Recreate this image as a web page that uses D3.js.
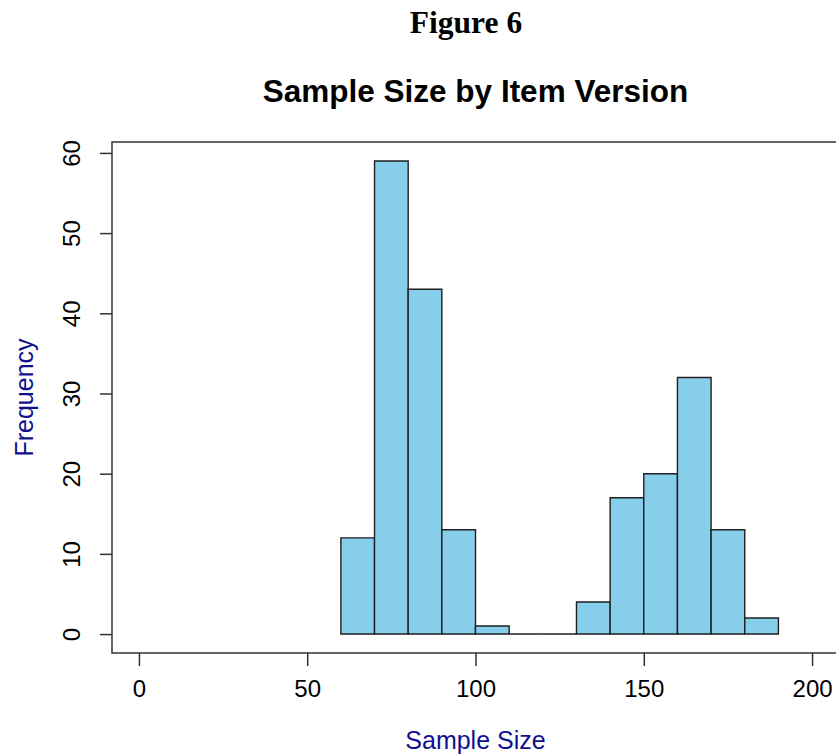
<!DOCTYPE html>
<html>
<head>
<meta charset="utf-8">
<script src="https://cdn.jsdelivr.net/npm/d3@7/dist/d3.min.js"></script>
<style>
  html, body { margin: 0; padding: 0; background: #fff; }
  svg { display: block; }
</style>
</head>
<body>
<svg id="chart" width="836" height="756"></svg>
<script>
// Histogram bins (lower edge, upper edge) and their counts
const binStarts = [60, 70, 80, 90, 100, 110, 120, 130, 140, 150, 160, 170, 180];
const binWidth = 10;
const counts = [12, 59, 43, 13, 1, 0, 0, 4, 17, 20, 32, 13, 2];
const xTicks = [0, 50, 100, 150, 200];
const yTicks = [0, 10, 20, 30, 40, 50, 60];

const figureLabel = "Figure 6";
const title = "Sample Size by Item Version";
const xLabel = "Sample Size";
const yLabel = "Frequency";

const svg = d3.select("#chart");

// plot region with 4% padding around the data ranges
const xMin = 0, xMax = 200;
const yMax = d3.max(counts);
const xPad = (xMax - xMin) * 0.04, yPad = yMax * 0.04;

const plot = { left: 112, right: 839, top: 142, bottom: 653 };

const x = d3.scaleLinear()
  .domain([xMin - xPad, xMax + xPad])
  .range([plot.left, plot.right]);
const y = d3.scaleLinear()
  .domain([-yPad, yMax + yPad])
  .range([plot.bottom, plot.top]);

const font = "'Liberation Sans', Arial, sans-serif";
const axisColor = "#333";

// bars as closed paths so that empty bins still show their baseline edge
svg.append("g").selectAll("path")
  .data(binStarts.map((s, i) => ({ s, c: counts[i] })))
  .join("path")
  .attr("d", d => {
    const x0 = x(d.s), x1 = x(d.s + binWidth), y0 = y(0), y1 = y(d.c);
    return `M${x0},${y0}L${x0},${y1}L${x1},${y1}L${x1},${y0}Z`;
  })
  .attr("fill", "#87CEEB")
  .attr("stroke", "#1f1f1f")
  .attr("stroke-width", 1.4);

// box around the plot region
svg.append("rect")
  .attr("x", plot.left).attr("y", plot.top)
  .attr("width", plot.right - plot.left)
  .attr("height", plot.bottom - plot.top)
  .attr("fill", "none")
  .attr("stroke", axisColor)
  .attr("stroke-width", 1.5);

// x axis
const xAxis = svg.append("g")
  .attr("transform", `translate(0,${plot.bottom})`)
  .call(d3.axisBottom(x).tickValues(xTicks).tickSize(13).tickSizeOuter(0).tickPadding(14));
xAxis.select(".domain").remove();
xAxis.selectAll("line").attr("stroke", axisColor).attr("stroke-width", 1.5);
xAxis.selectAll("text")
  .attr("font-family", font).attr("font-size", 24).attr("fill", "#000");

// y axis with rotated labels
const yAxis = svg.append("g")
  .attr("transform", `translate(${plot.left},0)`)
  .call(d3.axisLeft(y).tickValues(yTicks).tickSize(12).tickSizeOuter(0));
yAxis.select(".domain").remove();
yAxis.selectAll("line").attr("stroke", axisColor).attr("stroke-width", 1.5);
yAxis.selectAll("text")
  .attr("font-family", font).attr("font-size", 24).attr("fill", "#000")
  .attr("x", null).attr("dy", null)
  .attr("text-anchor", "middle")
  .attr("transform", "translate(-32,0) rotate(-90)");

// figure caption
svg.append("text")
  .attr("x", 466).attr("y", 33)
  .attr("text-anchor", "middle")
  .attr("font-family", "'Liberation Serif', 'Times New Roman', serif")
  .attr("font-weight", "bold").attr("font-size", 31.5)
  .text(figureLabel);

// chart title
svg.append("text")
  .attr("x", (plot.left + plot.right) / 2).attr("y", 102)
  .attr("text-anchor", "middle")
  .attr("font-family", font).attr("font-weight", "bold").attr("font-size", 31.5)
  .text(title);

// axis titles
svg.append("text")
  .attr("x", (plot.left + plot.right) / 2).attr("y", 749)
  .attr("text-anchor", "middle")
  .attr("font-family", font).attr("font-size", 25)
  .attr("fill", "#10108f")
  .text(xLabel);

svg.append("text")
  .attr("transform", `translate(33,${(plot.top + plot.bottom) / 2}) rotate(-90)`)
  .attr("text-anchor", "middle")
  .attr("font-family", font).attr("font-size", 25)
  .attr("fill", "#10108f")
  .text(yLabel);
</script>
</body>
</html>
